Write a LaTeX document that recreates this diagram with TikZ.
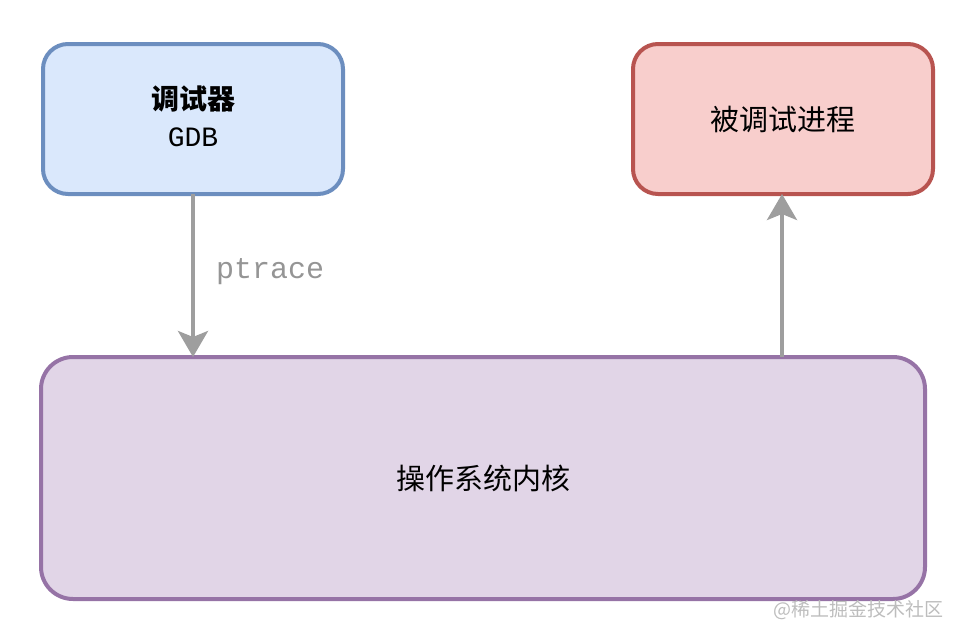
\documentclass[tikz,border=0pt]{standalone}
\usepackage{fontspec}
\setmonofont{Liberation Mono}
\newfontfamily\cjk{Noto Sans CJK SC}
\usetikzlibrary{arrows.meta}
\definecolor{bluefill}{HTML}{DAE8FC}
\definecolor{bluedraw}{HTML}{6C8EBF}
\definecolor{redfill}{HTML}{F8CECC}
\definecolor{reddraw}{HTML}{B85450}
\definecolor{purfill}{HTML}{E1D5E7}
\definecolor{purdraw}{HTML}{9673A6}
\definecolor{arrgray}{HTML}{9E9E9E}
\definecolor{labgray}{HTML}{959595}
\definecolor{wmgray}{HTML}{BDBDBD}
\tikzset{
  box/.style={draw, line width=4pt, rounded corners=25pt, inner sep=0pt, outer sep=0pt, align=center},
  conn/.style={draw=arrgray, line width=4pt, -{Stealth[length=26pt,width=30pt,inset=6pt]}},
}
\begin{document}
\begin{tikzpicture}[x=1pt,y=-1pt]
\useasboundingbox (0,0) rectangle (964,640);
\node[box, fill=bluefill, draw=bluedraw, minimum width=300pt, minimum height=150pt] (gdb) at (193,119) {};
\node (gdbt) at (193,99) {\fontsize{28}{32}\selectfont\cjk\bfseries 调试器};
\node (gdbm) at (193,137) {\fontsize{28}{32}\selectfont\ttfamily GDB};
\node[box, fill=redfill, draw=reddraw, minimum width=300pt, minimum height=150pt] (proc) at (783,119) {\fontsize{29}{34}\selectfont\cjk 被调试进程};
\node[box, fill=purfill, draw=purdraw, rounded corners=32pt, minimum width=884pt, minimum height=242pt] (kernel) at (483,478) {\fontsize{29}{34}\selectfont\cjk 操作系统内核};
\draw[conn] (gdb.south) -- (gdb.south |- kernel.north);
\draw[conn] (kernel.north -| 782,0) -- (proc.south -| 782,0);
\node[anchor=west, text=labgray, inner sep=0pt] (lab) at (216,272) {\fontsize{30}{34}\selectfont\ttfamily ptrace};
\node[anchor=east, text=wmgray, inner sep=0pt] (wm) at (944,610) {\fontsize{19}{22}\selectfont\cjk @稀土掘金技术社区};
\end{tikzpicture}
\end{document}
